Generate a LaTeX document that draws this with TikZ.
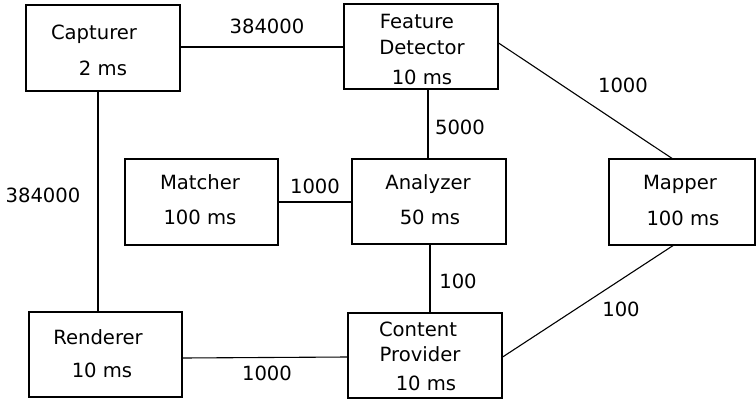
\documentclass[tikz,border=0pt]{standalone}
\usepackage{fontspec}
\setmainfont{DejaVu Sans}
\begin{document}
\begin{tikzpicture}[x=1pt,y=-1pt,
  box/.style={draw,line width=1.2pt,minimum width=154pt,minimum height=86pt,inner sep=0pt,anchor=center},
  txt/.style={inner sep=0pt,text height=14.3pt,text depth=0pt,anchor=center,font=\fontsize{19.6}{23}\selectfont},
  conn/.style={line width=1.1pt}]
\useasboundingbox (0,0) rectangle (756,400);
% boxes
\node[box] (cap) at (103,48) {};
\node[box,minimum height=85pt] (fd) at (421,46.5) {};
\node[box,minimum width=153pt] (mat) at (201.5,202) {};
\node[box,minimum height=85pt] (ana) at (429,201.5) {};
\node[box,minimum width=146pt] (map) at (682,202) {};
\node[box,minimum width=153pt,minimum height=85pt] (ren) at (105.5,354.5) {};
\node[box,minimum height=85pt] (cp) at (425,355.5) {};
% box texts
\node[txt] (capA) at (94,32) {Capturer};
\node[txt] (capB) at (103,68) {2 ms};
\node[txt] (fdA) at (417,21) {Feature};
\node[txt] (fdB) at (422,47) {Detector};
\node[txt] (fdC) at (422,77) {10 ms};
\node[txt] (matA) at (200,182) {Matcher};
\node[txt] (matB) at (200,217) {100 ms};
\node[txt] (anaA) at (428,182) {Analyzer};
\node[txt] (anaB) at (430,217) {50 ms};
\node[txt] (mapA) at (680,182) {Mapper};
\node[txt] (mapB) at (683,218) {100 ms};
\node[txt] (renA) at (98,337) {Renderer};
\node[txt] (renB) at (102,370) {10 ms};
\node[txt] (cpA) at (418,329) {Content};
\node[txt] (cpB) at (420,354) {Provider};
\node[txt] (cpC) at (426,383) {10 ms};
% connectors
\draw[conn] ([yshift=1pt]cap.east) -- ([yshift=1pt]cap.east -| fd.west);
\draw[conn] ([xshift=-5pt]cap.south) -- ([xshift=-5pt]cap.south |- ren.north);
\draw[conn] ([xshift=-1pt]ana.north |- fd.south) -- ([xshift=-1pt]ana.north);
\draw[conn] ([yshift=3.5pt]fd.east) -- ([xshift=-10pt]map.north);
\draw[conn] (mat.east) -- (mat.east -| ana.west);
\draw[conn] ([xshift=1pt]ana.south) -- ([xshift=1pt]ana.south |- cp.north);
\draw[conn] ([yshift=-3.5pt]ren.east) -- ([yshift=-1.5pt]cp.west);
\draw[conn] ([yshift=-1.5pt]cp.east) -- ([xshift=-9pt]map.south);
% labels
\node[txt] (l1) at (267,26) {384000};
\node[txt] (l2) at (43,195) {384000};
\node[txt] (l3) at (460,127) {5000};
\node[txt] (l4) at (315,186) {1000};
\node[txt] (l5) at (623,85) {1000};
\node[txt] (l6) at (458,281) {100};
\node[txt] (l7) at (621,309) {100};
\node[txt] (l8) at (267,373) {1000};
\end{tikzpicture}
\end{document}
